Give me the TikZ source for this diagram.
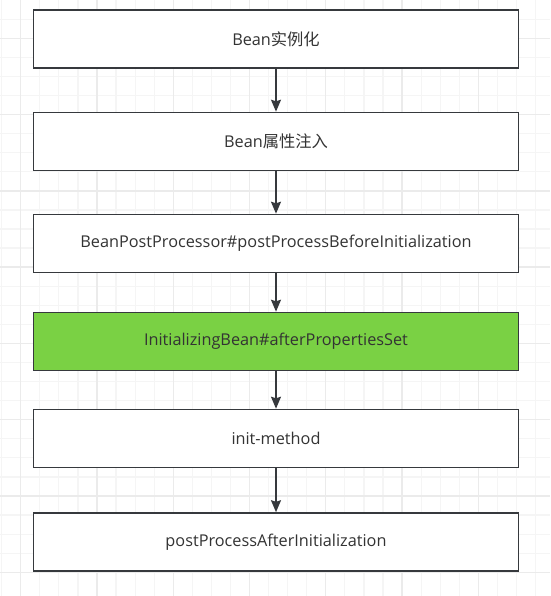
\documentclass[tikz,border=0pt]{standalone}
\usepackage{fontspec}
\setmainfont{Open Sans}
\newfontfamily\cjk{Noto Sans CJK SC}
\usetikzlibrary{arrows.meta, positioning}
\definecolor{gridminor}{HTML}{F5F5F5}
\definecolor{gridmajor}{HTML}{EBEBEB}
\definecolor{boxline}{HTML}{36393D}
\definecolor{textgray}{HTML}{333333}
\definecolor{stepgreen}{HTML}{7AD144}

\begin{document}
\begin{tikzpicture}[x=0.75pt, y=-0.75pt,
        stagebox/.style={draw=boxline, line width=1.2pt, fill=white,
            minimum width=363.75pt, minimum height=43.5pt, inner sep=0pt,
            text=textgray, font=\fontsize{12.2pt}{14pt}\selectfont},
        flow/.style={draw=boxline, line width=1.2pt,
            -{Stealth[length=9pt, width=7.5pt, inset=1.2pt]}}]
            \useasboundingbox (0,0) rectangle (550,596);
            % grid paper
            \begin{scope}
                \clip (0,0) rectangle (550,596);
                \foreach \i in {-1,...,28} {
                    \draw[gridminor, line width=0.9pt] (20.7+19.07*\i,0) -- (20.7+19.07*\i,596);
                    \draw[gridminor, line width=0.9pt] (0,38.3+19.07*\i) -- (550,38.3+19.07*\i);
                }
                \foreach \i in {0,...,7} {
                    \draw[gridmajor, line width=1pt] (20.7+76.27*\i,0) -- (20.7+76.27*\i,596);
                    \draw[gridmajor, line width=1pt] (0,38.3+76.27*\i) -- (550,38.3+76.27*\i);
                }
            \end{scope}
            % stages
            \node[stagebox] (inst) at (276,39) {Bean{\cjk 实例化}};
            \node[stagebox] (props) at (276,141.5) {Bean{\cjk 属性注入}};
            \node[stagebox] (before) at (276,243.5) {BeanPostProcessor\#postProcessBeforeInitialization};
            \node[stagebox, fill=stepgreen] (afterset) at (276,341.5) {InitializingBean\#afterPropertiesSet};
            \node[stagebox] (initm) at (276,438.5) {init-method};
            \node[stagebox] (after) at (276,542) {postProcessAfterInitialization};
            \draw[flow] (inst) -- (props);
            \draw[flow] (props) -- (before);
            \draw[flow] (before) -- (afterset);
            \draw[flow] (afterset) -- (initm);
            \draw[flow] (initm) -- (after);
        \end{tikzpicture}
\end{document}
